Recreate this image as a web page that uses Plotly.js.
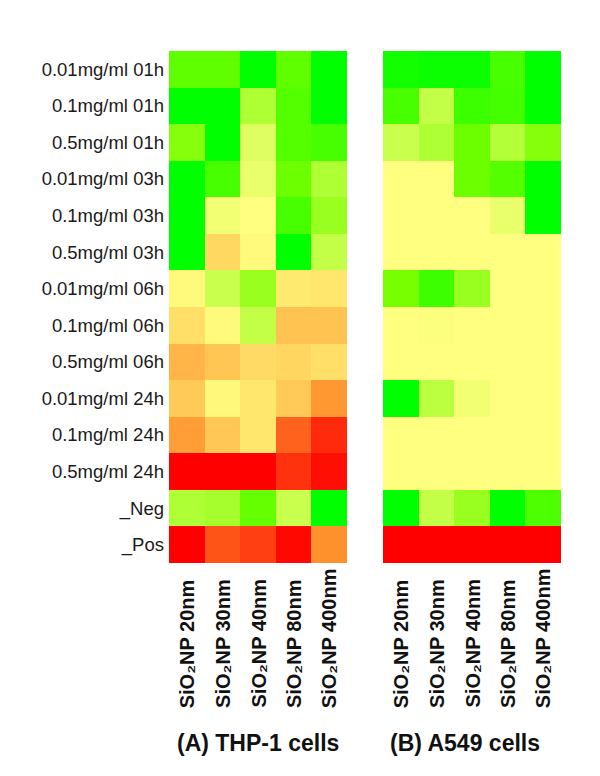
<!DOCTYPE html>
<html>
<head>
<meta charset="utf-8">
<script src="https://cdn.plot.ly/plotly-3.0.1.min.js"></script>
<style>html,body{margin:0;padding:0;background:#fff;}#chart{width:600px;height:776px;}</style>
</head>
<body>
<div id="chart"></div>
<script>
// Row labels (top to bottom)
const rowLabels = [
  "0.01mg/ml 01h", "0.1mg/ml 01h", "0.5mg/ml 01h",
  "0.01mg/ml 03h", "0.1mg/ml 03h", "0.5mg/ml 03h",
  "0.01mg/ml 06h", "0.1mg/ml 06h", "0.5mg/ml 06h",
  "0.01mg/ml 24h", "0.1mg/ml 24h", "0.5mg/ml 24h",
  "_Neg", "_Pos"
];
// Column categories
const particles = ["20nm", "30nm", "40nm", "80nm", "400nm"];
const colLabels = particles.map(p => "SiO\u2082NP " + p);

// Relative score: -1 = green, 0 = pale yellow, +1 = red (estimated from colours)
const thp1Values = [
  [-0.60, -0.60, -1.00, -0.60, -1.00],
  [-1.00, -1.00, -0.30, -0.65, -1.00],
  [-0.45, -1.00, -0.12, -0.65, -0.70],
  [-1.00, -0.70, -0.08, -0.55, -0.30],
  [-1.00, -0.05,  0.00, -0.70, -0.38],
  [-1.00,  0.17,  0.02, -1.00, -0.22],
  [ 0.02, -0.20, -0.38,  0.09,  0.11],
  [ 0.14,  0.02, -0.22,  0.26,  0.26],
  [ 0.32,  0.25,  0.16,  0.18,  0.14],
  [ 0.23,  0.03,  0.11,  0.23,  0.45],
  [ 0.42,  0.24,  0.11,  0.65,  0.85],
  [ 1.00,  1.00,  1.00,  0.82,  0.95],
  [-0.30, -0.33, -0.58, -0.20, -1.00],
  [ 1.00,  0.70,  0.78,  0.97,  0.48]
];
const a549Values = [
  [-0.92, -0.95, -0.95, -0.70, -1.00],
  [-0.70, -0.22, -0.75, -0.72, -1.00],
  [-0.20, -0.30, -0.55, -0.28, -0.45],
  [ 0.00,  0.00, -0.55, -0.65, -1.00],
  [ 0.00,  0.00,  0.00, -0.08, -1.00],
  [ 0.00,  0.00,  0.00,  0.00,  0.00],
  [-0.50, -0.75, -0.38,  0.00,  0.00],
  [ 0.00, -0.01,  0.00,  0.00,  0.00],
  [ 0.00,  0.00,  0.00,  0.00,  0.00],
  [-1.00, -0.25, -0.05,  0.00,  0.00],
  [ 0.00,  0.00,  0.00,  0.00,  0.00],
  [ 0.00,  0.00,  0.00,  0.00,  0.00],
  [-1.00, -0.22, -0.38, -1.00, -0.68],
  [ 1.00,  1.00,  1.00,  1.00,  1.00]
];
const panelTitles = ["(A) THP-1 cells", "(B) A549 cells"];

const cscale = [
  [0.0, "rgb(0,255,0)"],
  [0.25, "rgb(120,255,0)"],
  [0.5, "rgb(255,255,128)"],
  [0.75, "rgb(255,140,40)"],
  [1.0, "rgb(255,0,0)"]
];

function hm(z, xa, ya) {
  return {
    type: "heatmap", z: z, x: particles, y: rowLabels,
    xaxis: xa, yaxis: ya, colorscale: cscale, zmin: -1, zmax: 1,
    showscale: false, xgap: 0, ygap: 0, hoverinfo: "none"
  };
}

const data = [hm(thp1Values, "x", "y"), hm(a549Values, "x2", "y2")];

const annFont = {family: "Liberation Sans, Arial, DejaVu Sans, sans-serif", size: 20, color: "#111", weight: "bold"};
const annotations = [];
particles.forEach((p, i) => {
  ["x", "x2"].forEach(xr => {
    annotations.push({
      xref: xr, yref: "paper", x: p, y: 1 - 710 / 776,
      text: colLabels[i], textangle: -90, showarrow: false,
      xanchor: "center", yanchor: "bottom", font: annFont
    });
  });
});
annotations.push({
  xref: "paper", yref: "paper", x: 258 / 600, y: 1 - 743 / 776,
  text: panelTitles[0], showarrow: false, xanchor: "center", yanchor: "middle",
  font: {family: "Liberation Sans, Arial, sans-serif", size: 23, color: "#111", weight: "bold"}
});
annotations.push({
  xref: "paper", yref: "paper", x: 465 / 600, y: 1 - 743 / 776,
  text: panelTitles[1], showarrow: false, xanchor: "center", yanchor: "middle",
  font: {family: "Liberation Sans, Arial, sans-serif", size: 23, color: "#111", weight: "bold"}
});

const yDomain = [1 - 563 / 776, 1 - 51 / 776];
const layout = {
  width: 600, height: 776,
  margin: {l: 0, r: 0, t: 0, b: 0},
  paper_bgcolor: "#fff", plot_bgcolor: "#fff",
  showlegend: false,
  xaxis: {domain: [169 / 600, 347 / 600], showticklabels: false, ticks: "", showgrid: false, zeroline: false, showline: false},
  xaxis2: {domain: [383 / 600, 561 / 600], showticklabels: false, ticks: "", showgrid: false, zeroline: false, showline: false, anchor: "y2"},
  yaxis: {domain: yDomain, autorange: "reversed", ticks: "", showgrid: false, zeroline: false, showline: false,
          ticklabelstandoff: 4,
          tickfont: {family: "Liberation Sans, Arial, sans-serif", size: 18.5, color: "#1a1a1a"}},
  yaxis2: {domain: yDomain, autorange: "reversed", showticklabels: false, ticks: "", showgrid: false, zeroline: false, showline: false, anchor: "x2"},
  annotations: annotations
};

Plotly.newPlot("chart", data, layout, {displayModeBar: false, staticPlot: true});
</script>
</body>
</html>
